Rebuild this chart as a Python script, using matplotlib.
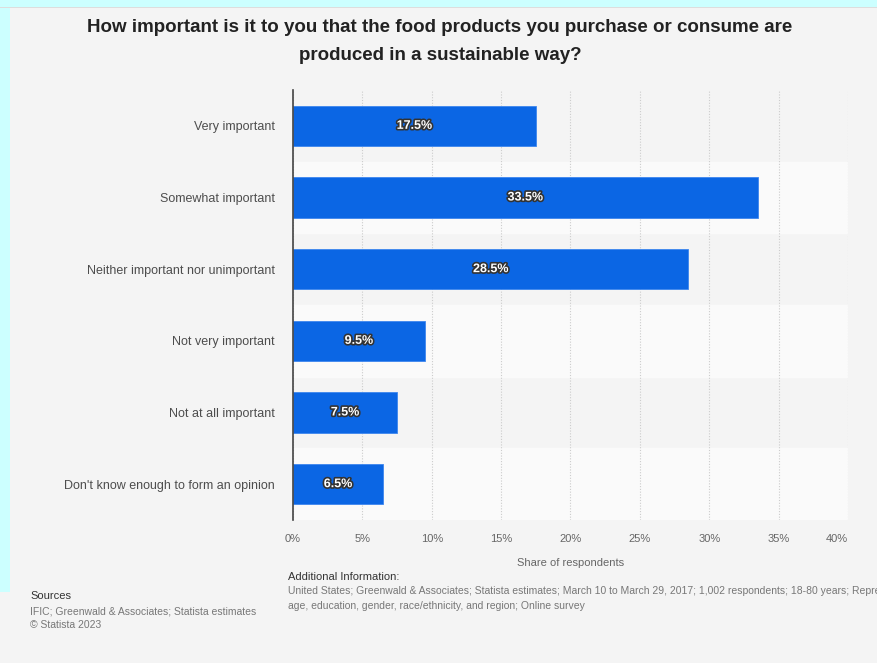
import matplotlib.pyplot as plt
import matplotlib.patheffects as pe
from matplotlib.patches import Rectangle

plt.rcParams['font.family'] = ['Liberation Sans', 'DejaVu Sans']

# Data
categories = ['Very important', 'Somewhat important', 'Neither important nor unimportant',
              'Not very important', 'Not at all important', "Don't know enough to form an opinion"]
shares = [17.5, 33.5, 28.5, 9.5, 7.5, 6.5]
xticks = [0, 5, 10, 15, 20, 25, 30, 35, 40]

W, H = 878, 663
fig = plt.figure(figsize=(W / 100, H / 100), dpi=100)
fig.patch.set_facecolor('#f4f4f4')

# cyan strips at top and left edge
fig.patches.append(Rectangle((0, 1 - 7 / H), 1, 7 / H, transform=fig.transFigure,
                             facecolor='#ccffff', edgecolor='none', zorder=0))
fig.patches.append(Rectangle((0, 1 - 592 / H), 10 / W, 592 / H, transform=fig.transFigure,
                             facecolor='#ccffff', edgecolor='none', zorder=0))
fig.patches.append(Rectangle((0, 1 - 8 / H), 1, 1.2 / H, transform=fig.transFigure,
                             facecolor='#dddddd', edgecolor='none', zorder=0))

ax = fig.add_axes([293 / W, 1 - 520 / H, (848 - 293) / W, (520 - 90) / H])
ax.set_facecolor('#f4f4f4')

n = len(categories)
ypos = list(range(n))
for i in ypos:
    if i % 2 == 1:
        ax.axhspan(i - 0.5, i + 0.5, color='#fafafa', zorder=0)

bars = ax.barh(ypos, shares, height=0.56, color='#0b66e4', edgecolor='#3d86ee',
               linewidth=0.6, zorder=3)

for y, v in zip(ypos, shares):
    ax.text(v / 2, y, f'{v}%', ha='center', va='center', color='white',
            fontsize=9, fontweight='bold', zorder=4,
            path_effects=[pe.withStroke(linewidth=2.4, foreground='#333333')])

ax.set_xlim(0, 40)
ax.set_ylim(n - 0.5, -0.5)
ax.set_xticks(xticks)
ax.set_xticklabels([f'{t}%' for t in xticks], color='#666666', fontsize=8)
# the last label sits a little inside the plot edge
ax.get_xticklabels()[-1].set_horizontalalignment('right')
ax.get_xticklabels()[-1].set_x(39.8)
ax.set_yticks(ypos)
ax.set_yticklabels(categories, color='#4d4d4d', fontsize=9)
ax.tick_params(axis='both', length=0)
ax.tick_params(axis='x', pad=10)
ax.tick_params(axis='y', pad=13)
ax.grid(axis='x', color='#cccccc', linestyle=(0, (1, 1.5)), linewidth=0.8, zorder=1)
ax.set_axisbelow(True)
for s in ['top', 'right', 'bottom']:
    ax.spines[s].set_visible(False)
ax.spines['left'].set_color('#444444')
ax.spines['left'].set_linewidth(1.2)
ax.spines['left'].set_zorder(5)

ax.set_xlabel('Share of respondents', color='#666666', fontsize=8, labelpad=10)

fig.text(440 / W, 1 - 27 / H, 'How important is it to you that the food products you purchase or consume are',
         ha='center', va='center', fontsize=13.5, fontweight='bold', color='#222222')
fig.text(440 / W, 1 - 56 / H, 'produced in a sustainable way?',
         ha='center', va='center', fontsize=13.5, fontweight='bold', color='#222222')

fig.text(288 / W, 1 - 577 / H, 'Additional Information:', ha='left', va='center',
         fontsize=8, color='#333333')
fig.text(288 / W, 1 - 591 / H,
         'United States; Greenwald & Associates; Statista estimates; March 10 to March 29, 2017; 1,002 respondents; 18-80 years; Representative by',
         ha='left', va='center', fontsize=7.5, color='#777777')
fig.text(288 / W, 1 - 606 / H, 'age, education, gender, race/ethnicity, and region; Online survey',
         ha='left', va='center', fontsize=7.5, color='#777777')

fig.text(30 / W, 1 - 596 / H, 'Sources', ha='left', va='center', fontsize=8, color='#333333')
fig.text(30 / W, 1 - 611 / H, 'IFIC; Greenwald & Associates; Statista estimates',
         ha='left', va='center', fontsize=7.5, color='#777777')
fig.text(30 / W, 1 - 625 / H, '© Statista 2023', ha='left', va='center', fontsize=7.5, color='#777777')

fig.savefig('out.png', dpi=100, facecolor=fig.get_facecolor())
